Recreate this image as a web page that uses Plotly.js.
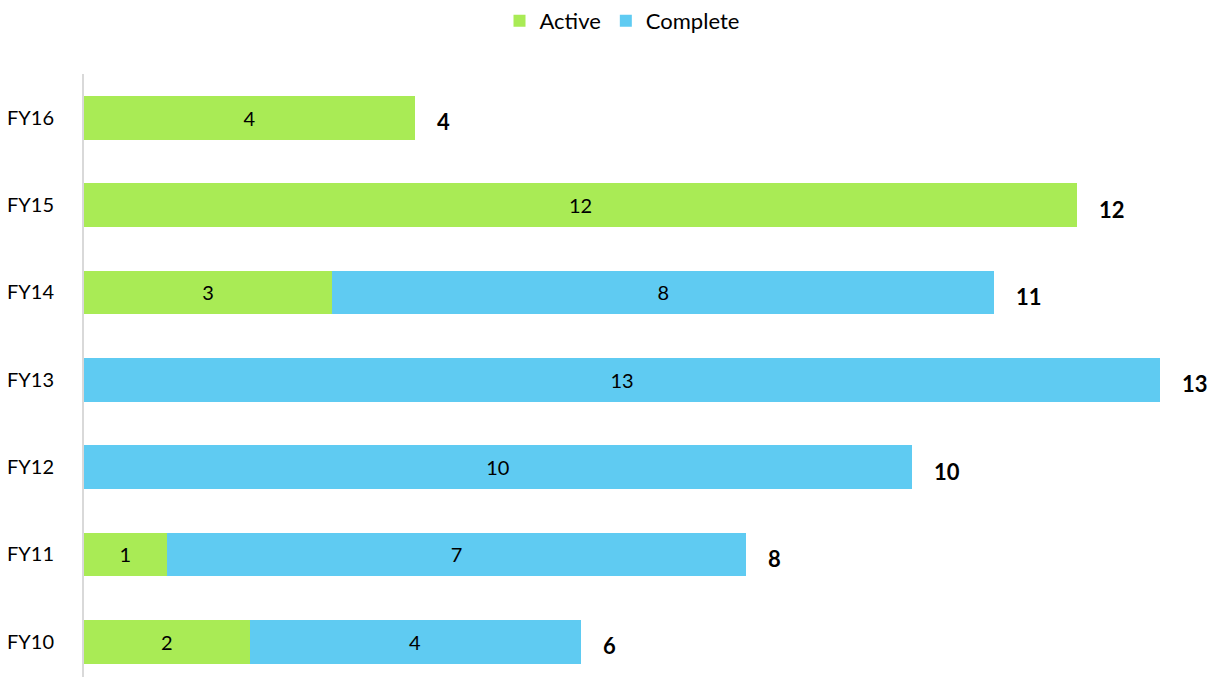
<!DOCTYPE html>
<html>
<head>
<meta charset="utf-8">
<script src="https://cdn.plot.ly/plotly-3.0.1.min.js"></script>
<style>html,body{margin:0;padding:0;background:#fff;}#chart{width:1215px;height:677px;}</style>
</head>
<body>
<div id="chart"></div>
<script>
const categories = ["FY10", "FY11", "FY12", "FY13", "FY14", "FY15", "FY16"];
const active = [2, 1, 0, 0, 3, 12, 4];
const complete = [4, 7, 10, 13, 8, 0, 0];
const totals = [6, 8, 10, 13, 11, 12, 4];

const FONT = "Lato, 'Open Sans', sans-serif";

function lbl(arr) { return arr.map(v => v > 0 ? String(v) : ""); }

const traces = [
  {
    type: "bar", orientation: "h", name: "Active",
    y: categories, x: active, text: lbl(active),
    textposition: "inside", insidetextanchor: "middle",
    textfont: {family: FONT, size: 20, color: "#000"},
    marker: {color: "#A9EB55"}, hoverinfo: "x+name"
  },
  {
    type: "bar", orientation: "h", name: "Complete",
    y: categories, x: complete, text: lbl(complete),
    textposition: "inside", insidetextanchor: "middle",
    textfont: {family: FONT, size: 20, color: "#000"},
    marker: {color: "#5FCBF2"}, hoverinfo: "x+name"
  }
];

const annotations = categories.map((c, i) => ({
  x: totals[i], y: c, xref: "x", yref: "y",
  text: "<b>" + totals[i] + "</b>", showarrow: false,
  xanchor: "left", xshift: 20, yshift: -4,
  font: {family: FONT, size: 22, color: "#000"}
}));

const layout = {
  width: 1215, height: 677,
  margin: {l: 84, r: 55, t: 74, b: 0},
  paper_bgcolor: "#fff", plot_bgcolor: "#fff",
  barmode: "stack", bargap: 0.5,
  font: {family: FONT, size: 20, color: "#000"},
  showlegend: true,
  legend: {orientation: "h", x: 0.5, xanchor: "center", y: 1, yref: "container", yanchor: "top",
           font: {family: FONT, size: 22, color: "#000"}, traceorder: "normal"},
  xaxis: {range: [0, 13], showgrid: false, zeroline: false, showticklabels: false, ticks: "", showline: false, fixedrange: true},
  yaxis: {type: "category", range: [-0.404, 6.5], showgrid: false, zeroline: false,
          showline: true, linecolor: "#D9D9D9", linewidth: 2, ticks: "",
          ticklabelstandoff: 24,
          tickfont: {family: FONT, size: 20, color: "#000"}},
  annotations: annotations
};

Plotly.newPlot("chart", traces, layout, {displayModeBar: false, staticPlot: true});
</script>
</body>
</html>
